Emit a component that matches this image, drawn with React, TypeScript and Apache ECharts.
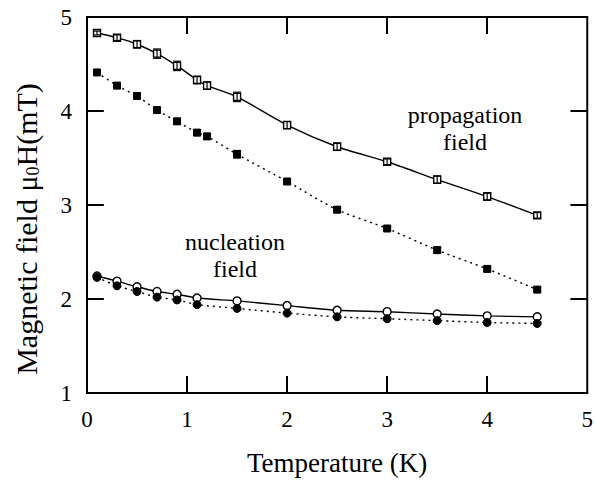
import React, { useEffect, useRef } from "react";
import * as echarts from "echarts";

// Temperatures (K) for each series
const tempProp = [0.1, 0.3, 0.5, 0.7, 0.9, 1.1, 1.2, 1.5, 2.0, 2.5, 3.0, 3.5, 4.0, 4.5];
const tempNuc = [0.1, 0.3, 0.5, 0.7, 0.9, 1.1, 1.5, 2.0, 2.5, 3.0, 3.5, 4.0, 4.5];

// Propagation field (mT), two conditions
const propSolid = [4.83, 4.78, 4.71, 4.61, 4.48, 4.33, 4.27, 4.15, 3.85, 3.62, 3.46, 3.27, 3.09, 2.89];
const propSolidErr = [0.02, 0.03, 0.04, 0.05, 0.05, 0.04, 0.04, 0.05, 0.04, 0.04, 0.03, 0.04, 0.04, 0.03];
const propDotted = [4.41, 4.27, 4.16, 4.01, 3.89, 3.77, 3.73, 3.54, 3.25, 2.95, 2.75, 2.52, 2.32, 2.1];
const propDottedErr = [0.0, 0.0, 0.0, 0.02, 0.03, 0.03, 0.03, 0.04, 0.03, 0.03, 0.02, 0.03, 0.02, 0.02];

// Nucleation field (mT), two conditions
const nucSolid = [2.245, 2.19, 2.13, 2.08, 2.05, 2.01, 1.98, 1.93, 1.88, 1.865, 1.84, 1.82, 1.81];
const nucDotted = [2.23, 2.14, 2.08, 2.02, 1.99, 1.94, 1.9, 1.85, 1.81, 1.79, 1.77, 1.75, 1.74];

// Axis ticks
const xTicks = [0, 1, 2, 3, 4, 5];
const yTicks = [1, 2, 3, 4, 5];

const FONT = "Liberation Serif";
const TICK_LEN = 17;

const X_MIN = xTicks[0];
const X_MAX = xTicks[xTicks.length - 1];
const Y_MIN = yTicks[0];
const Y_MAX = yTicks[yTicks.length - 1];

// Plot box size in pixels (window minus grid margins)
const PLOT_W = 596 - 87 - 4;
const PLOT_H = 481 - 17 - 88;
const TICK_DX = (TICK_LEN / PLOT_W) * (X_MAX - X_MIN);
const TICK_DY = (TICK_LEN / PLOT_H) * (Y_MAX - Y_MIN);

function pairs(xs: number[], ys: number[]) {
  return xs.map((x, i) => [x, ys[i]]);
}

function errData(xs: number[], ys: number[], es: number[]) {
  return xs.map((x, i) => [x, ys[i], es[i]]);
}

function errorBarItem(params: any, api: any) {
  const x = api.value(0);
  const y = api.value(1);
  const e = api.value(2);
  const top = api.coord([x, y + e]);
  const bot = api.coord([x, y - e]);
  const cap = 4;
  const style = { stroke: "#000", lineWidth: 1.2 };
  return {
    type: "group",
    children: [
      { type: "line", shape: { x1: top[0], y1: top[1], x2: bot[0], y2: bot[1] }, style },
      { type: "line", shape: { x1: top[0] - cap, y1: top[1], x2: top[0] + cap, y2: top[1] }, style },
      { type: "line", shape: { x1: bot[0] - cap, y1: bot[1], x2: bot[0] + cap, y2: bot[1] }, style },
    ],
  };
}

// Inward frame ticks on all four sides, as mark-line segments in data units
const tickSegments: any[] = [
  ...xTicks.slice(1, -1).flatMap((x) => [
    [{ coord: [x, Y_MIN] }, { coord: [x, Y_MIN + TICK_DY] }],
    [{ coord: [x, Y_MAX] }, { coord: [x, Y_MAX - TICK_DY] }],
  ]),
  ...yTicks.slice(1, -1).flatMap((y) => [
    [{ coord: [X_MIN, y] }, { coord: [X_MIN + TICK_DX, y] }],
    [{ coord: [X_MAX, y] }, { coord: [X_MAX - TICK_DX, y] }],
  ]),
];

export default function App() {
  const ref = useRef<HTMLDivElement>(null);

  useEffect(() => {
    if (!ref.current) return;
    const chart = echarts.init(ref.current, null, { renderer: "svg" });

    const solidLine = { color: "#000", width: 1.4, type: "solid" as const };
    const dottedLine = { color: "#000", width: 1.4, type: [2, 4] as any };

    const option: any = {
      animation: false,
      backgroundColor: "#fff",
      textStyle: { fontFamily: FONT },
      grid: {
        left: 87,
        right: 4,
        top: 17,
        bottom: 88,
        show: true,
        borderColor: "#000",
        borderWidth: 2,
        backgroundColor: "transparent",
      },
      xAxis: {
        type: "value",
        min: X_MIN,
        max: X_MAX,
        interval: 1,
        axisLine: { show: true, onZero: false, lineStyle: { color: "#000", width: 2 } },
        axisTick: { show: false },
        axisLabel: { color: "#000", fontFamily: FONT, fontSize: 23, margin: 15 },
        splitLine: { show: false },
        name: "Temperature (K)",
        nameLocation: "middle",
        nameGap: 56,
        nameTextStyle: { color: "#000", fontFamily: FONT, fontSize: 27 },
      },
      yAxis: {
        type: "value",
        min: Y_MIN,
        max: Y_MAX,
        interval: 1,
        axisLine: { show: true, onZero: false, lineStyle: { color: "#000", width: 2 } },
        axisTick: { show: false },
        axisLabel: { color: "#000", fontFamily: FONT, fontSize: 23, margin: 15 },
        splitLine: { show: false },
      },
      series: [
        {
          name: "propagation (open)",
          type: "line",
          data: pairs(tempProp, propSolid),
          smooth: 0.25,
          lineStyle: solidLine,
          symbol: "rect",
          symbolSize: 7,
          itemStyle: { color: "#fff", borderColor: "#000", borderWidth: 1.4 },
          z: 3,
          markLine: {
            silent: true,
            symbol: ["none", "none"],
            label: { show: false },
            lineStyle: { color: "#000", width: 2, type: "solid" },
            emphasis: { disabled: true },
            data: tickSegments,
          },
        },
        {
          name: "propagation (filled)",
          type: "line",
          data: pairs(tempProp, propDotted),
          smooth: 0.25,
          lineStyle: dottedLine,
          symbol: "rect",
          symbolSize: 7,
          itemStyle: { color: "#000", borderColor: "#000", borderWidth: 1 },
          z: 3,
        },
        {
          name: "nucleation (open)",
          type: "line",
          data: pairs(tempNuc, nucSolid),
          smooth: 0.25,
          lineStyle: solidLine,
          symbol: "circle",
          symbolSize: 8,
          itemStyle: { color: "#fff", borderColor: "#000", borderWidth: 1.4 },
          z: 3,
        },
        {
          name: "nucleation (filled)",
          type: "line",
          data: pairs(tempNuc, nucDotted),
          smooth: 0.25,
          lineStyle: dottedLine,
          symbol: "circle",
          symbolSize: 8,
          itemStyle: { color: "#000", borderColor: "#000", borderWidth: 1 },
          z: 3,
        },
        {
          type: "custom",
          renderItem: errorBarItem,
          data: errData(tempProp, propSolid, propSolidErr),
          encode: { x: 0, y: 1 },
          z: 4,
        },
        {
          type: "custom",
          renderItem: errorBarItem,
          data: errData(tempProp, propDotted, propDottedErr),
          encode: { x: 0, y: 1 },
          z: 4,
        },
      ],
      graphic: [
        {
          type: "text",
          x: 26,
          y: 229,
          rotation: Math.PI / 2,
          style: {
            text: "Magnetic field μ{sub|0}H(mT)",
            align: "center",
            verticalAlign: "middle",
            fontFamily: FONT,
            fontSize: 30,
            fill: "#000",
            rich: {
              sub: { fontFamily: FONT, fontSize: 18, fill: "#000", padding: [14, 0, 0, 0] },
            },
          },
        },
        {
          type: "text",
          x: 465,
          y: 101,
          style: {
            text: "propagation\nfield",
            align: "center",
            fontFamily: FONT,
            fontSize: 24,
            lineHeight: 27,
            fill: "#000",
          },
        },
        {
          type: "text",
          x: 235,
          y: 228,
          style: {
            text: "nucleation\nfield",
            align: "center",
            fontFamily: FONT,
            fontSize: 24,
            lineHeight: 27,
            fill: "#000",
          },
        },
      ],
    };

    chart.setOption(option);
    return () => chart.dispose();
  }, []);

  return <div ref={ref} style={{ width: 596, height: 481, position: "absolute", left: 0, top: 0 }} />;
}
